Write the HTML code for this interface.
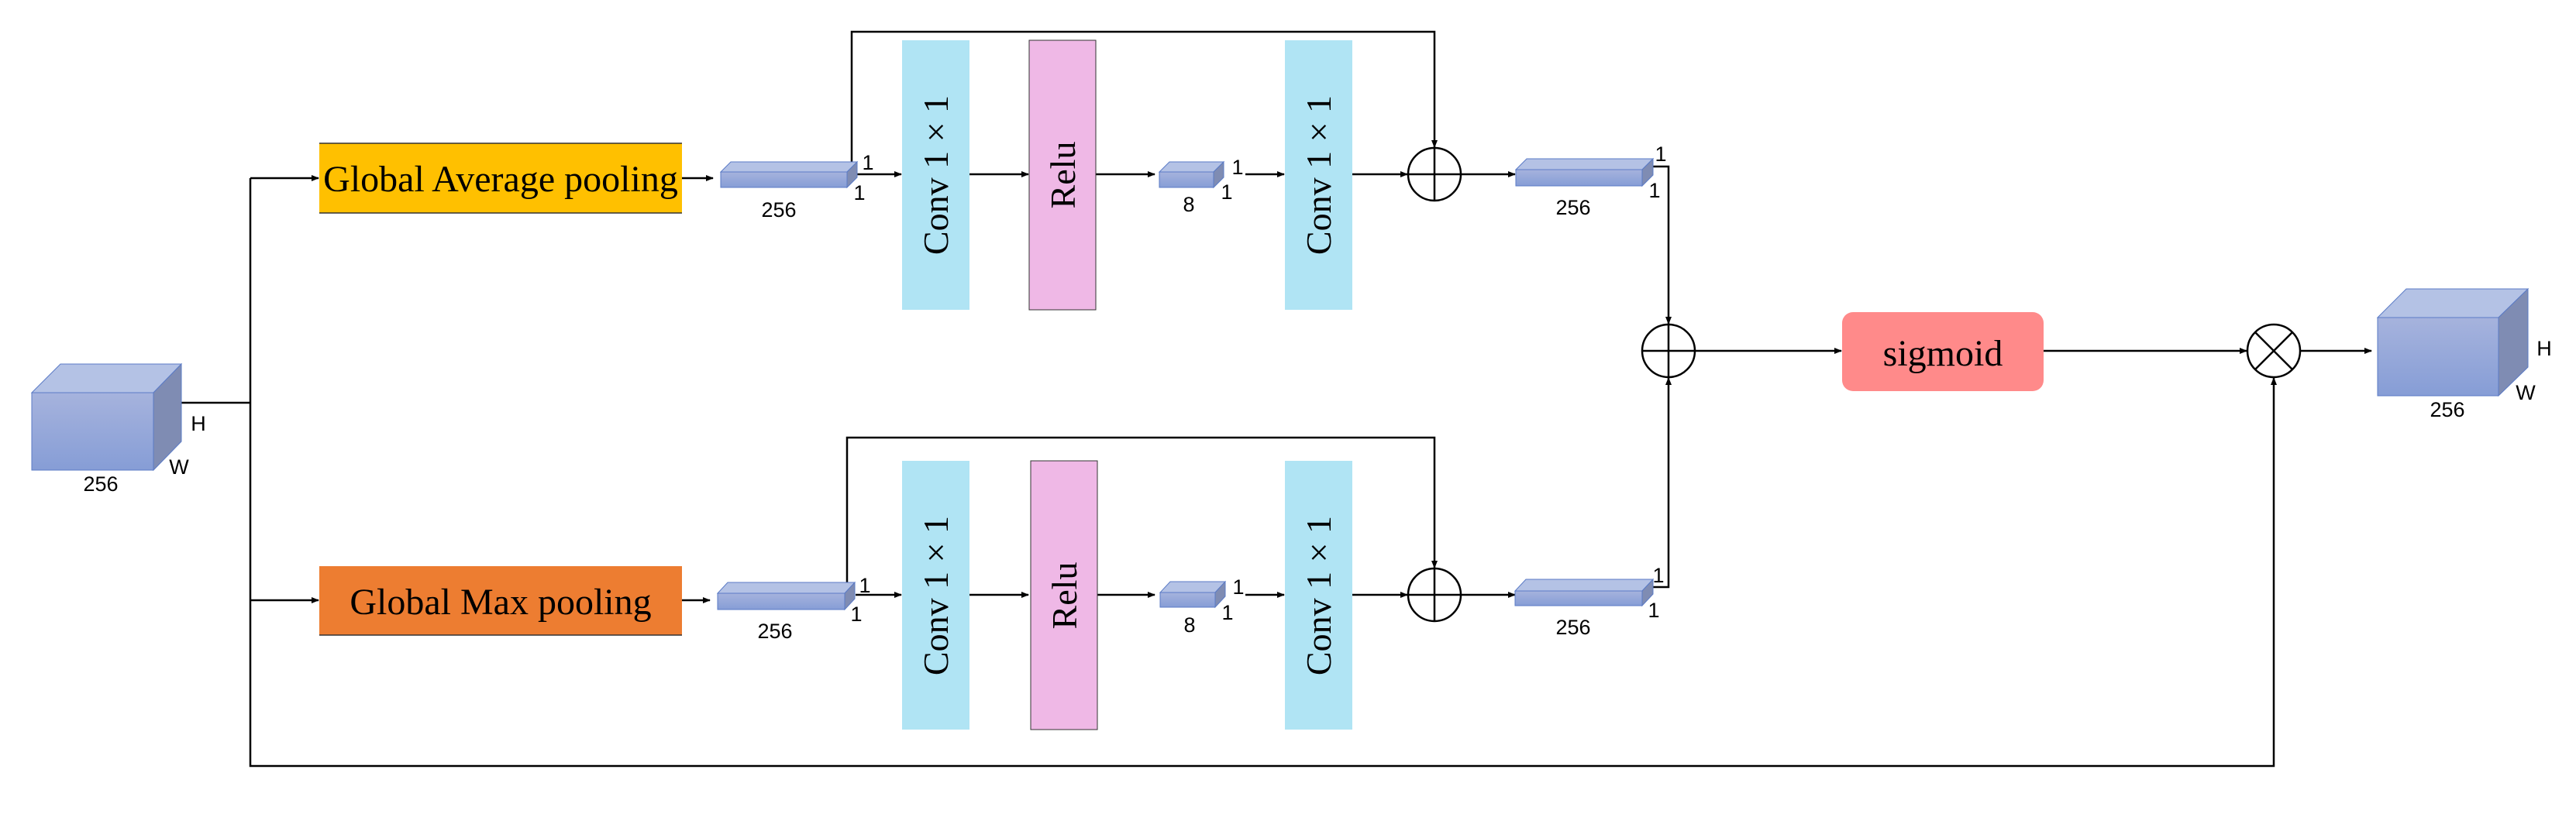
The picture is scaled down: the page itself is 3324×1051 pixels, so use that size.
<!DOCTYPE html>
<html><head><meta charset="utf-8"><style>
html,body{margin:0;padding:0;background:#fff;}
svg{display:block;}
.t{font-family:"Liberation Serif",serif;fill:#000;}
.s{font-family:"Liberation Sans",sans-serif;fill:#000;font-size:27px;}
</style></head><body>
<svg width="3324" height="1051" viewBox="0 0 3324 1051" xmlns="http://www.w3.org/2000/svg">
<defs>
<marker id="a" markerWidth="10" markerHeight="8" refX="9" refY="4" orient="auto" markerUnits="userSpaceOnUse">
<path d="M0,0 L10,4 L0,8 z" fill="#000"/></marker>
<linearGradient id="fg" x1="0" y1="0" x2="0" y2="1"><stop offset="0" stop-color="#a6b3dd"/><stop offset="1" stop-color="#869dd6"/></linearGradient>
</defs>
<g fill="none" stroke="#000" stroke-width="2.5">
<polyline points="234,520 323,520"/>
<polyline points="323,230 323,989 2934,989 2934,488" marker-end="url(#a)"/>
<line x1="323" y1="230" x2="411" y2="230" marker-end="url(#a)"/>
<line x1="323" y1="775" x2="411" y2="775" marker-end="url(#a)"/>
<line x1="880" y1="230" x2="920" y2="230" marker-end="url(#a)"/>
<line x1="880" y1="775" x2="916" y2="775" marker-end="url(#a)"/>
<line x1="1106" y1="225" x2="1163" y2="225" marker-end="url(#a)"/>
<line x1="1251" y1="225" x2="1327" y2="225" marker-end="url(#a)"/>
<line x1="1414" y1="225" x2="1490" y2="225" marker-end="url(#a)"/>
<line x1="1607" y1="225" x2="1657" y2="225" marker-end="url(#a)"/>
<line x1="1745" y1="225" x2="1816" y2="225" marker-end="url(#a)"/>
<line x1="1885" y1="225" x2="1955" y2="225" marker-end="url(#a)"/>
<polyline points="1099,210 1099,41 1851,41 1851,190" marker-end="url(#a)"/>
<circle cx="1851" cy="225" r="34"/><line x1="1817" y1="225" x2="1885" y2="225"/><line x1="1851" y1="191" x2="1851" y2="259"/>
<line x1="1104" y1="768" x2="1163" y2="768" marker-end="url(#a)"/>
<line x1="1251" y1="768" x2="1327" y2="768" marker-end="url(#a)"/>
<line x1="1414" y1="768" x2="1490" y2="768" marker-end="url(#a)"/>
<line x1="1607" y1="768" x2="1657" y2="768" marker-end="url(#a)"/>
<line x1="1745" y1="768" x2="1816" y2="768" marker-end="url(#a)"/>
<line x1="1885" y1="768" x2="1955" y2="768" marker-end="url(#a)"/>
<polyline points="1093,752 1093,565 1851,565 1851,733" marker-end="url(#a)"/>
<circle cx="1851" cy="768" r="34"/><line x1="1817" y1="768" x2="1885" y2="768"/><line x1="1851" y1="734" x2="1851" y2="802"/>
<polyline points="2133,215 2153,215 2153,418" marker-end="url(#a)"/>
<polyline points="2133,758 2153,758 2153,488" marker-end="url(#a)"/>
<circle cx="2153" cy="453" r="34"/><line x1="2119" y1="453" x2="2187" y2="453"/><line x1="2153" y1="419" x2="2153" y2="487"/>
<line x1="2187" y1="453" x2="2376" y2="453" marker-end="url(#a)"/>
<line x1="2637" y1="453" x2="2899" y2="453" marker-end="url(#a)"/>
<circle cx="2934" cy="453" r="34"/><line x1="2910" y1="429" x2="2958" y2="477"/><line x1="2958" y1="429" x2="2910" y2="477"/>
<line x1="2968" y1="453" x2="3060" y2="453" marker-end="url(#a)"/>
</g>
<rect x="412" y="185" width="468" height="90" fill="#ffc000"/>
<line x1="412" y1="185" x2="880" y2="185" stroke="#333" stroke-width="1.5"/>
<line x1="412" y1="275" x2="880" y2="275" stroke="#333" stroke-width="1.5"/>
<text class="t" x="646" y="247" font-size="48" text-anchor="middle">Global Average pooling</text>
<rect x="412" y="731" width="468" height="89" fill="#ed7d31"/>
<line x1="412" y1="820" x2="880" y2="820" stroke="#333" stroke-width="1.5"/>
<text class="t" x="646" y="793" font-size="48" text-anchor="middle">Global Max pooling</text>
<g fill="#b0e4f4">
<rect x="1164" y="52" width="87" height="348"/><rect x="1658" y="52" width="87" height="348"/>
<rect x="1164" y="595" width="87" height="347"/><rect x="1658" y="595" width="87" height="347"/>
</g>
<g fill="#efb8e6" stroke="#333" stroke-width="1">
<rect x="1328" y="52" width="86" height="348"/><rect x="1330" y="595" width="86" height="347"/>
</g>
<g class="t" font-size="46" text-anchor="middle">
<text transform="translate(1223,226) rotate(-90)">Conv 1 × 1</text>
<text transform="translate(1717,226) rotate(-90)">Conv 1 × 1</text>
<text transform="translate(1223,769) rotate(-90)">Conv 1 × 1</text>
<text transform="translate(1717,769) rotate(-90)">Conv 1 × 1</text>
<text transform="translate(1387,226) rotate(-90)">Relu</text>
<text transform="translate(1389,769) rotate(-90)">Relu</text>
</g>
<rect x="2377" y="403" width="260" height="102" rx="14" fill="#ff8a8a"/>
<text class="t" x="2507" y="472" font-size="48" text-anchor="middle">sigmoid</text>
<g stroke="#5b7bc6" stroke-width="1">
<polygon points="41,507 78,470 234,470 198,507" fill="#b4c2e5"/>
<polygon points="198,507 234,470 234,570 198,607" fill="#7f8cb3"/>
<rect x="41" y="507" width="157" height="100" fill="url(#fg)"/>
<polygon points="3068,410 3105,373 3262,373 3224,410" fill="#b4c2e5"/>
<polygon points="3224,410 3262,373 3262,474 3224,511" fill="#7f8cb3"/>
<rect x="3068" y="410" width="156" height="101" fill="url(#fg)"/>
<polygon points="930,222 943,209 1106,209 1093,222" fill="#b4c2e5"/><polygon points="1093,222 1106,209 1106,229 1093,242" fill="#7f8cb3"/><rect x="930" y="222" width="163" height="20" fill="url(#fg)"/>
<polygon points="926,766 939,752 1103,752 1090,766" fill="#b4c2e5"/><polygon points="1090,766 1103,752 1103,773 1090,787" fill="#7f8cb3"/><rect x="926" y="766" width="164" height="21" fill="url(#fg)"/>
<polygon points="1496,222 1509,209 1579,209 1566,222" fill="#b4c2e5"/><polygon points="1566,222 1579,209 1579,229 1566,242" fill="#7f8cb3"/><rect x="1496" y="222" width="70" height="20" fill="url(#fg)"/>
<polygon points="1497,765 1510,751 1581,751 1568,765" fill="#b4c2e5"/><polygon points="1568,765 1581,751 1581,770 1568,784" fill="#7f8cb3"/><rect x="1497" y="765" width="71" height="19" fill="url(#fg)"/>
<polygon points="1956,219 1970,205 2133,205 2119,219" fill="#b4c2e5"/><polygon points="2119,219 2133,205 2133,226 2119,240" fill="#7f8cb3"/><rect x="1956" y="219" width="163" height="21" fill="url(#fg)"/>
<polygon points="1955,763 1969,748 2133,748 2119,763" fill="#b4c2e5"/><polygon points="2119,763 2133,748 2133,767 2119,782" fill="#7f8cb3"/><rect x="1955" y="763" width="164" height="19" fill="url(#fg)"/>
</g>
<g class="s" text-anchor="middle">
<text x="130" y="634">256</text><text x="256" y="556">H</text><text x="231" y="612">W</text>
<text x="3158" y="538">256</text><text x="3283" y="459">H</text><text x="3259" y="516">W</text>
<text x="1005" y="280">256</text><text x="1000" y="824">256</text>
<text x="1534" y="273">8</text><text x="1535" y="816">8</text>
<text x="2030" y="277">256</text><text x="2030" y="819">256</text>
<text x="1120" y="219">1</text><text x="1109" y="258">1</text>
<text x="1116" y="765">1</text><text x="1105" y="802">1</text>
<text x="1597" y="225">1</text><text x="1583" y="257">1</text>
<text x="1598" y="767">1</text><text x="1584" y="800">1</text>
<text x="2143" y="208">1</text><text x="2135" y="255">1</text>
<text x="2140" y="752">1</text><text x="2134" y="797">1</text>
</g>
</svg>
</body></html>
